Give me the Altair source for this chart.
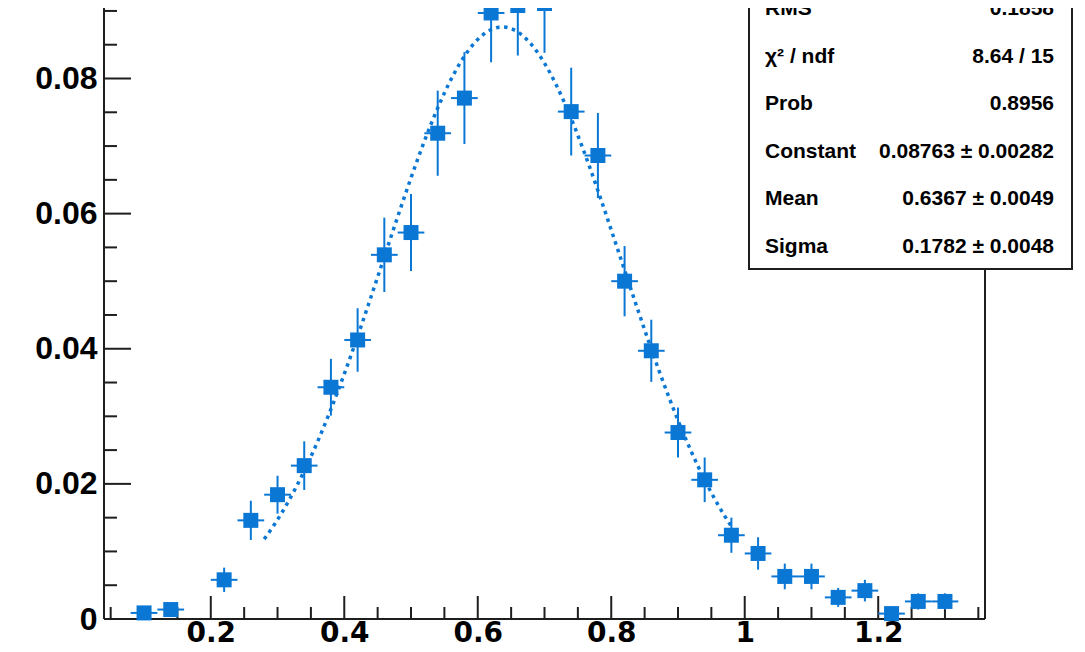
import altair as alt
import pandas as pd

# ---- histogram data (bin centres, contents, errors) ----
bin_centers = [0.10, 0.14, 0.22, 0.26, 0.30, 0.34, 0.38, 0.42, 0.46, 0.50,
               0.54, 0.58, 0.62, 0.66, 0.70, 0.74, 0.78, 0.82, 0.86, 0.90,
               0.94, 0.98, 1.02, 1.06, 1.10, 1.14, 1.18, 1.22, 1.26, 1.30]
bin_values = [0.0009, 0.0014, 0.0058, 0.0146, 0.0184, 0.0227, 0.0343, 0.0413, 0.0539, 0.0572,
              0.0719, 0.0771, 0.0897, 0.0908, 0.0911, 0.0751, 0.0686, 0.0500, 0.0397, 0.0276,
              0.0206, 0.0124, 0.0097, 0.0063, 0.0063, 0.0032, 0.0042, 0.0008, 0.0026, 0.0026]
bin_errors = [0.0007, 0.0009, 0.0018, 0.0029, 0.0028, 0.0036, 0.0042, 0.0047, 0.0055, 0.0057,
              0.0063, 0.0068, 0.0073, 0.0074, 0.0073, 0.0065, 0.0063, 0.0052, 0.0046, 0.0037,
              0.0033, 0.0026, 0.0024, 0.0019, 0.0019, 0.0014, 0.0016, 0.0007, 0.0012, 0.0012]
bin_half_width = 0.02

# ---- gaussian fit parameters ----
fit_constant = 0.08763
fit_mean = 0.6367
fit_sigma = 0.1782
fit_range = [0.28, 0.98]

# ---- stats box ----
stat_labels = ["RMS", "χ² / ndf", "Prob", "Constant", "Mean", "Sigma"]
stat_values = ["0.1858", "8.64 / 15", "0.8956", "0.08763 ± 0.00282",
               "0.6367 ± 0.0049", "0.1782 ± 0.0048"]

# ---- axes ----
x_domain = [0.04, 1.36]
y_domain = [0.0, 0.090435]
x_major_ticks = [0.2, 0.4, 0.6, 0.8, 1.0, 1.2]
x_minor_ticks = [0.05, 0.1, 0.15, 0.25, 0.3, 0.35, 0.45, 0.5, 0.55, 0.65, 0.7, 0.75,
                 0.85, 0.9, 0.95, 1.05, 1.1, 1.15, 1.25, 1.3, 1.35]
y_major_ticks = [0.0, 0.02, 0.04, 0.06, 0.08]
y_minor_ticks = [0.005, 0.01, 0.015, 0.025, 0.03, 0.035, 0.045, 0.05, 0.055,
                 0.065, 0.07, 0.075, 0.085, 0.09]

W, H = 881, 611
BLUE = "#0a77d5"
FRAME = "#1e1e1e"

xs = alt.Scale(domain=x_domain, nice=False, zero=False)
ys = alt.Scale(domain=y_domain, nice=False, zero=False)

XAX = alt.Axis(values=x_major_ticks, format="~g", domain=False, ticks=False, grid=False,
               labelFont="DejaVu Sans", labelFontSize=28, labelFontWeight="bold",
               labelColor="black", labelPadding=0, title=None, labelFlush=False,
               labelOverlap=False)
YAX = alt.Axis(values=y_major_ticks, format="~g", domain=False, ticks=False, grid=False,
               labelFont="Liberation Sans", labelFontSize=32, labelFontWeight="bold",
               labelColor="black", labelPadding=7, title=None, labelFlush=False,
               labelOverlap=False)


def X(field, **kw):
    return alt.X(field, scale=xs, axis=XAX, **kw)


def Y(field, **kw):
    return alt.Y(field, scale=ys, axis=YAX, **kw)


hist = pd.DataFrame({"x": bin_centers, "y": bin_values, "e": bin_errors})
one = pd.DataFrame({"a": [0]})

# frame lines
frame_left = alt.Chart(one).mark_rule(color=FRAME, strokeWidth=2).encode(
    x=alt.value(0), y=alt.value(0), y2=alt.value(H))
frame_bottom = alt.Chart(one).mark_rule(color=FRAME, strokeWidth=2).encode(
    x=alt.value(0), x2=alt.value(W), y=alt.value(H))
frame_right = alt.Chart(one).mark_rule(color=FRAME, strokeWidth=2).encode(
    x=alt.value(W), y=alt.value(0), y2=alt.value(H))

# ticks (drawn inward, ROOT style)
xmaj = alt.Chart(pd.DataFrame({"v": x_major_ticks})).mark_rule(color=FRAME, strokeWidth=2).encode(
    x=X("v:Q"), y=alt.value(H), y2=alt.value(H - 23))
xmin = alt.Chart(pd.DataFrame({"v": x_minor_ticks})).mark_rule(color=FRAME, strokeWidth=2).encode(
    x=X("v:Q"), y=alt.value(H), y2=alt.value(H - 12))
ymaj = alt.Chart(pd.DataFrame({"v": y_major_ticks})).mark_rule(color=FRAME, strokeWidth=2).encode(
    y=Y("v:Q"), x=alt.value(0), x2=alt.value(27))
ymin = alt.Chart(pd.DataFrame({"v": y_minor_ticks})).mark_rule(color=FRAME, strokeWidth=2).encode(
    y=Y("v:Q"), x=alt.value(0), x2=alt.value(13))

# fit curve
fit = alt.Chart(alt.sequence(fit_range[0], fit_range[1] + 0.0005, 0.004, as_="fx")).transform_calculate(
    fy=f"{fit_constant} * exp(-0.5 * pow((datum.fx - {fit_mean}) / {fit_sigma}, 2))"
).mark_line(color=BLUE, strokeWidth=3.5, strokeDash=[3.5, 4.5]).encode(
    x=X("fx:Q"), y=Y("fy:Q"))

base = alt.Chart(hist).transform_calculate(
    lo="datum.y - datum.e", hi="datum.y + datum.e",
    xl=f"datum.x - {bin_half_width}", xr=f"datum.x + {bin_half_width}")

vbars = base.mark_rule(color=BLUE, strokeWidth=2).encode(
    x=X("x:Q"), y=Y("lo:Q"), y2="hi:Q")
hbars = base.mark_rule(color=BLUE, strokeWidth=2).encode(
    x=X("xl:Q"), x2="xr:Q", y=Y("y:Q"))

points = base.mark_square(color=BLUE, size=225, opacity=1).encode(
    x=X("x:Q"), y=Y("y:Q"))

# stats box
box = alt.Chart(one).mark_rect(fill="white", stroke=FRAME, strokeWidth=2).encode(
    x=alt.value(645), x2=alt.value(968), y=alt.value(-60), y2=alt.value(261))

stats = pd.DataFrame({"label": stat_labels, "value": stat_values, "row": list(range(len(stat_labels)))})
stat_base = alt.Chart(stats).transform_calculate(py="7 + 47.6 * datum.row")
stat_lab = stat_base.mark_text(align="left", baseline="alphabetic", font="Liberation Sans",
                               fontSize=21, fontWeight="bold", color="black").encode(
    x=alt.value(661), y=alt.Y("py:Q", scale=None), text="label:N")
stat_val = stat_base.mark_text(align="right", baseline="alphabetic", font="Liberation Sans",
                               fontSize=21, fontWeight="bold", color="black").encode(
    x=alt.value(950), y=alt.Y("py:Q", scale=None), text="value:N")

chart = alt.layer(
    frame_left, frame_bottom, frame_right, xmaj, xmin, ymaj, ymin,
    fit, vbars, hbars, points, box, stat_lab, stat_val
).properties(
    width=W, height=H,
    autosize=alt.AutoSizeParams(type="none"),
    padding={"left": 96, "top": 0, "right": 92, "bottom": 25},
    background="white",
).configure_view(stroke=None)

chart.save("out.html", embed_options={"renderer": "svg", "actions": False})
